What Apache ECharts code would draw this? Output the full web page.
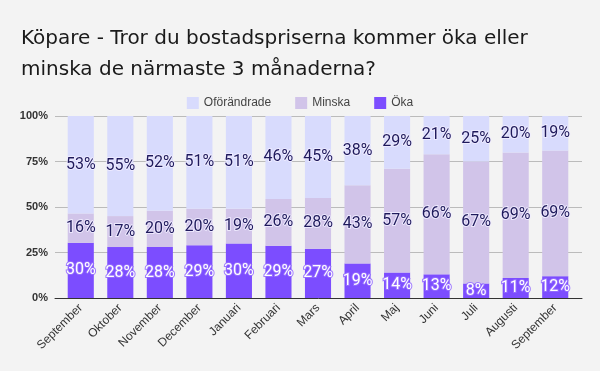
<!DOCTYPE html>
<html><head><meta charset="utf-8">
<script src="https://cdn.jsdelivr.net/npm/echarts@6/dist/echarts.min.js"></script>
<style>html,body{margin:0;padding:0;background:#f3f3f3}#c{width:600px;height:371px}</style>
</head><body><div id="c"></div>
<script>
const categories = ['September','Oktober','November','December','Januari','Februari','Mars','April','Maj','Juni','Juli','Augusti','September'];
const oka = [30,28,28,29,30,29,27,19,14,13,8,11,12];
const minska = [16,17,20,20,19,26,28,43,57,66,67,69,69];
const oforandrade = [53,55,52,51,51,46,45,38,29,21,25,20,19];
const yTicks = [0,25,50,75,100];

const totals = categories.map((_, i) => oka[i] + minska[i] + oforandrade[i]);
const norm = arr => arr.map((v, i) => ({ value: v / totals[i] * 100, raw: v }));

const darkLabel = {
  show: true, position: 'inside', fontFamily: 'Roboto', fontSize: 16,
  color: '#1f1a5c', textBorderColor: 'rgba(240,236,255,0.9)', textBorderWidth: 2,
  formatter: p => p.data.raw + '%'
};
const lightLabel = Object.assign({}, darkLabel, {
  color: '#ffffff', textBorderColor: 'rgba(150,110,255,0.9)'
});

const yMin = yTicks[0], yMax = yTicks[yTicks.length - 1], yInt = yTicks[1] - yTicks[0];

const chart = echarts.init(document.getElementById('c'), null, { renderer: 'canvas' });
chart.setOption({
  backgroundColor: '#f3f3f3',
  animation: false,
  title: {
    text: 'Köpare - Tror du bostadspriserna kommer öka eller\nminska de närmaste 3 månaderna?',
    left: 16, top: 18,
    textStyle: { fontFamily: 'DejaVu Sans', fontSize: 20, fontWeight: 'normal', color: '#1a1a1a', lineHeight: 31 }
  },
  legend: {
    top: 92, left: 'center', itemWidth: 12, itemHeight: 12, itemGap: 24, icon: 'rect',
    textStyle: { fontFamily: 'Liberation Sans', fontSize: 12, color: '#444' },
    data: ['Oförändrade', 'Minska', 'Öka']
  },
  grid: [
    { left: 55, right: 18, top: 116, bottom: 73 },
    { left: 61, right: 25, top: 116, bottom: 73 }
  ],
  xAxis: [
    {
      gridIndex: 0, type: 'value', min: 0, max: 1, show: true,
      axisLine: { show: true, onZero: false, lineStyle: { color: '#333', width: 1 } },
      axisTick: { show: false }, axisLabel: { show: false }, splitLine: { show: false }
    },
    {
      gridIndex: 1, type: 'category', data: categories,
      axisLine: { show: false },
      axisTick: { show: false },
      axisLabel: { rotate: 45, fontFamily: 'Liberation Sans', fontSize: 12, color: '#333', interval: 0, margin: 8 }
    }
  ],
  yAxis: [
    {
      gridIndex: 0, type: 'value', min: yMin, max: yMax, interval: yInt,
      axisLabel: { formatter: '{value}%', fontFamily: 'Liberation Sans', fontSize: 11, fontWeight: 'bold', color: '#333', margin: 7 },
      splitLine: { lineStyle: { color: '#bbbbbb' } },
      axisLine: { show: false }, axisTick: { show: false }
    },
    {
      gridIndex: 1, type: 'value', min: yMin, max: yMax, interval: yInt, show: false
    }
  ],
  series: [
    { name: 'Öka', type: 'bar', stack: 's', xAxisIndex: 1, yAxisIndex: 1, data: norm(oka), itemStyle: { color: '#7c4dff' }, label: lightLabel, barCategoryGap: '34%' },
    { name: 'Minska', type: 'bar', stack: 's', xAxisIndex: 1, yAxisIndex: 1, data: norm(minska), itemStyle: { color: '#d1c4e9' }, label: darkLabel },
    { name: 'Oförändrade', type: 'bar', stack: 's', xAxisIndex: 1, yAxisIndex: 1, data: norm(oforandrade), itemStyle: { color: '#d8dbfd' }, label: darkLabel }
  ]
});
</script></body></html>
